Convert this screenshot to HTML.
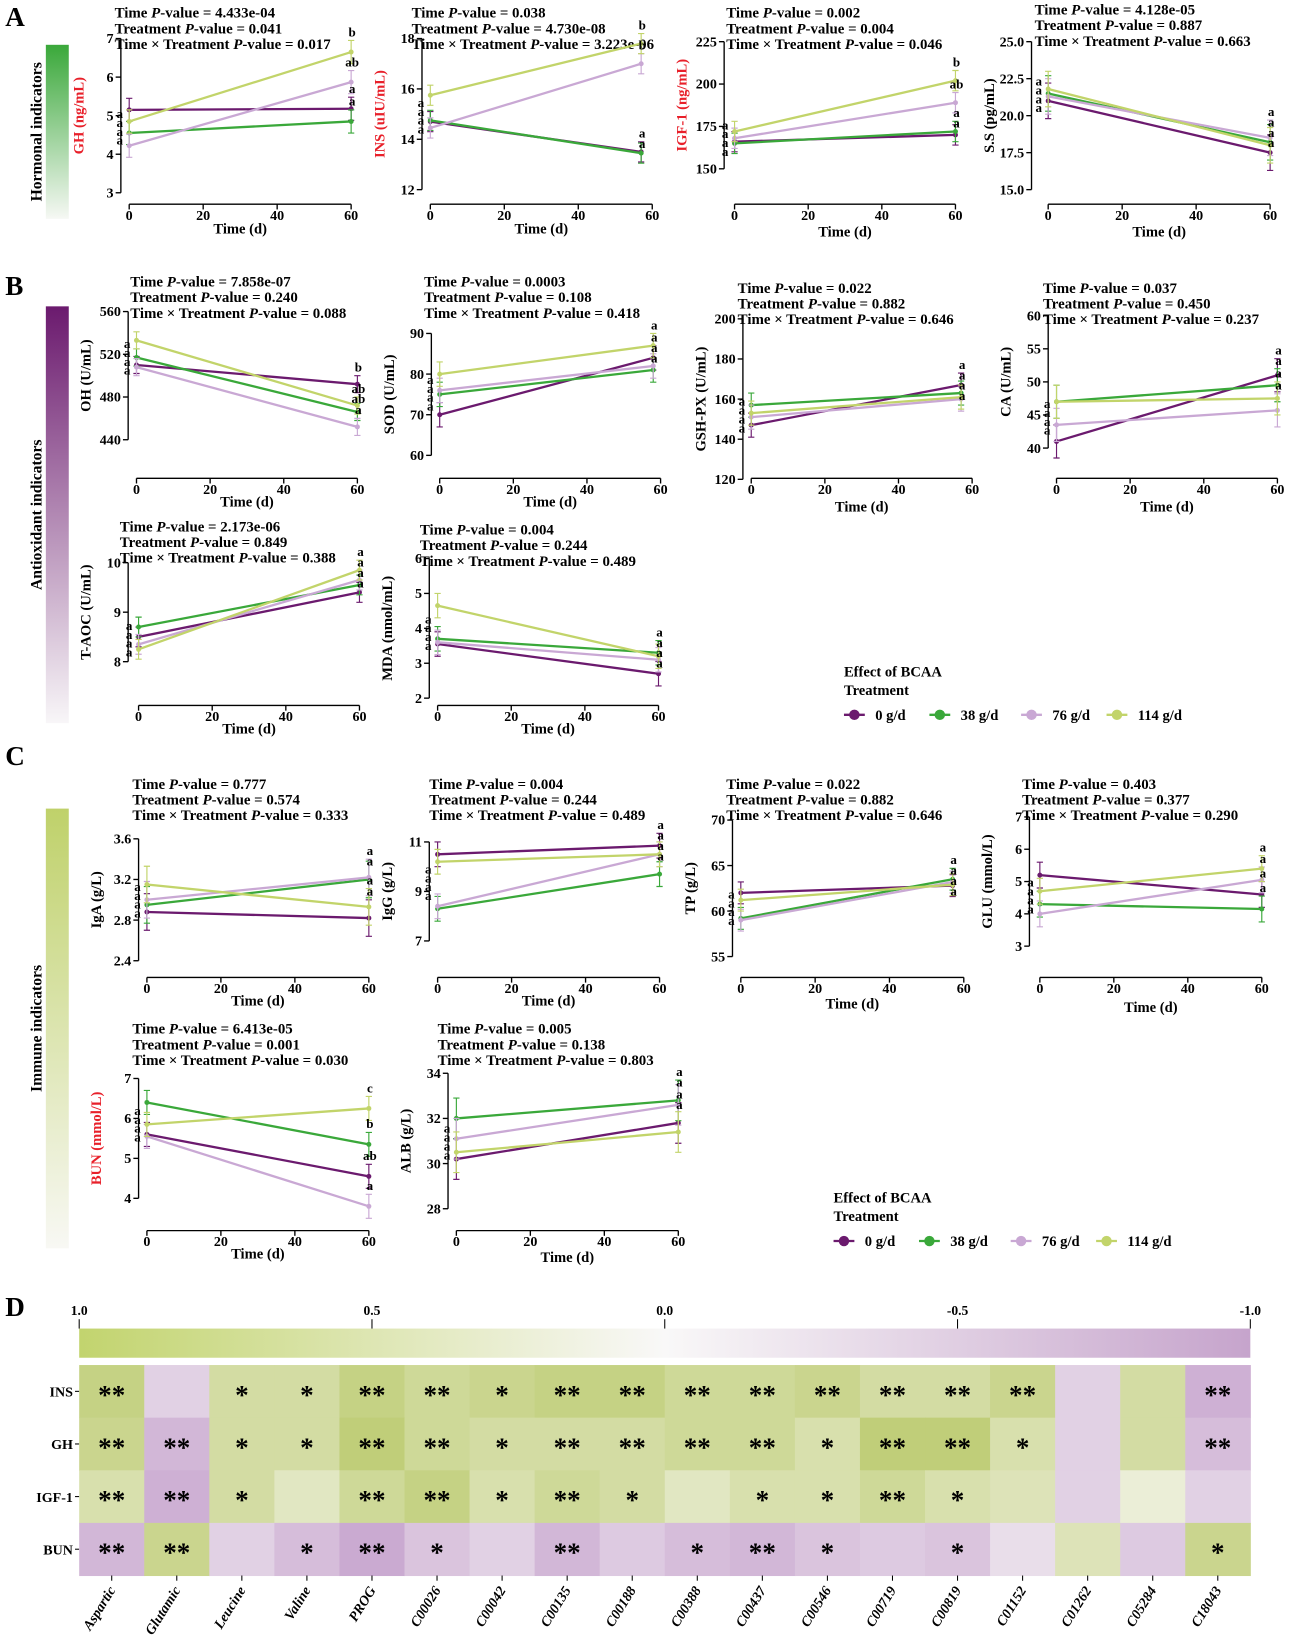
<!DOCTYPE html>
<html><head><meta charset="utf-8">
<style>
html,body{margin:0;padding:0;background:#fff;}
svg{display:block;font-family:"Liberation Serif",serif;font-weight:bold;}
</style></head>
<body>
<svg id="fig" width="1292" height="1637" viewBox="0 0 1240 1571" preserveAspectRatio="none" xmlns="http://www.w3.org/2000/svg">
<defs>
<linearGradient id="gA" x1="0" y1="0" x2="0" y2="1"><stop offset="0" stop-color="#3aa83a"/><stop offset="1" stop-color="#f6f8f4"/></linearGradient>
<linearGradient id="gB" x1="0" y1="0" x2="0" y2="1"><stop offset="0" stop-color="#6b1a6e"/><stop offset="1" stop-color="#f8f6f8"/></linearGradient>
<linearGradient id="gC" x1="0" y1="0" x2="0" y2="1"><stop offset="0" stop-color="#bfd16a"/><stop offset="1" stop-color="#f8f8f4"/></linearGradient>
<linearGradient id="gD" x1="0" y1="0" x2="1" y2="0"><stop offset="0" stop-color="#c2d46e"/><stop offset="0.5" stop-color="#f9f8f8"/><stop offset="1" stop-color="#c6a4cc"/></linearGradient>
</defs>
</svg>
<script>
// ---------- data ----------
const groups = ['0 g/d','38 g/d','76 g/d','114 g/d'];
const groupColors = ['#6b1a6e','#3aa83a','#c9a8d4','#c2d46a'];
const xTicks = [0,20,40,60];

const ghDay0 = [5.15,4.55,4.22,4.85];
const ghDay60 = [5.18,4.85,5.87,6.65];
const ghLetters = ['a','a','ab','b'];
const ghP = ['4.433e-04','0.041','0.017'];
const ghTicks = [3,4,5,6,7];

const insDay0 = [14.7,14.75,14.45,15.75];
const insDay60 = [13.5,13.45,17.0,17.8];
const insLetters = ['a','a','b','b'];
const insP = ['0.038','4.730e-08','3.223e-06'];
const insTicks = [12,14,16,18];

const igfDay0 = [166,165,168,172];
const igfDay60 = [170,172,189,202];
const igfLetters = ['a','a','ab','b'];
const igfP = ['0.002','0.004','0.046'];
const igfTicks = [150,175,200,225];

const ssDay0 = [21.0,21.5,21.3,21.8];
const ssDay60 = [17.5,18.2,18.5,18.0];
const ssLetters = ['a','a','a','a'];
const ssP = ['4.128e-05','0.887','0.663'];
const ssTicks = [15,17.5,20,22.5,25];

const ohDay0 = [510,517,508,533];
const ohDay60 = [492,466,452,472];
const ohLetters = ['b','ab','a','ab'];
const ohP = ['7.858e-07','0.240','0.088'];
const ohTicks = [440,480,520,560];

const sodDay0 = [70,75,76,80];
const sodDay60 = [84,81,82,87];
const sodLetters = ['a','a','a','a'];
const sodP = ['0.0003','0.108','0.418'];
const sodTicks = [60,70,80,90];

const gshDay0 = [147,157,151,153];
const gshDay60 = [167,163,160,161];
const gshLetters = ['a','a','a','a'];
const gshP = ['0.022','0.882','0.646'];
const gshTicks = [120,140,160,180,200];

const caDay0 = [41,47,43.5,47];
const caDay60 = [51,49.5,45.7,47.5];
const caLetters = ['a','a','a','a'];
const caP = ['0.037','0.450','0.237'];
const caTicks = [40,45,50,55,60];

const taocDay0 = [8.5,8.7,8.35,8.25];
const taocDay60 = [9.4,9.55,9.65,9.85];
const taocLetters = ['a','a','a','a'];
const taocP = ['2.173e-06','0.849','0.388'];
const taocTicks = [8,9,10];

const mdaDay0 = [3.55,3.7,3.6,4.65];
const mdaDay60 = [2.7,3.3,3.1,3.2];
const mdaLetters = ['a','a','a','a'];
const mdaP = ['0.004','0.244','0.489'];
const mdaTicks = [2,3,4,5,6];

const igaDay0 = [2.88,2.95,3.0,3.15];
const igaDay60 = [2.82,3.2,3.22,2.93];
const igaLetters = ['a','a','a','a'];
const igaP = ['0.777','0.574','0.333'];
const igaTicks = [2.4,2.8,3.2,3.6];

const iggDay0 = [10.5,8.3,8.4,10.2];
const iggDay60 = [10.85,9.7,10.5,10.5];
const iggLetters = ['a','a','a','a'];
const iggP = ['0.004','0.244','0.489'];
const iggTicks = [7,9,11];

const tpDay0 = [62,59.2,59,61.2];
const tpDay60 = [62.8,63.5,63.2,62.9];
const tpLetters = ['a','a','a','a'];
const tpP = ['0.022','0.882','0.646'];
const tpTicks = [55,60,65,70];

const gluDay0 = [5.2,4.3,4.0,4.7];
const gluDay60 = [4.6,4.15,5.05,5.4];
const gluLetters = ['a','a','a','a'];
const gluP = ['0.403','0.377','0.290'];
const gluTicks = [3,4,5,6,7];

const bunDay0 = [5.6,6.4,5.55,5.85];
const bunDay60 = [4.55,5.35,3.8,6.25];
const bunLetters = ['ab','b','a','c'];
const bunP = ['6.413e-05','0.001','0.030'];
const bunTicks = [4,5,6,7];

const albDay0 = [30.2,32,31.1,30.5];
const albDay60 = [31.8,32.8,32.6,31.4];
const albLetters = ['a','a','a','a'];
const albP = ['0.005','0.138','0.803'];
const albTicks = [28,30,32,34];

// heatmap data
const hmCols = ['Aspartic','Glutamic','Leucine','Valine','PROG','C00026','C00042','C00135','C00188','C00388','C00437','C00546','C00719','C00819','C01152','C01262','C05284','C18043'];
const hmRows = ['INS','GH','IGF-1','BUN'];
const corrINS = [0.55,-0.3,0.4,0.4,0.55,0.45,0.5,0.55,0.55,0.45,0.45,0.5,0.4,0.4,0.5,-0.3,0.4,-0.55];
const corrGH  = [0.5,-0.5,0.4,0.4,0.6,0.45,0.4,0.4,0.4,0.45,0.45,0.35,0.6,0.6,0.35,-0.3,0.4,-0.45];
const corrIGF = [0.35,-0.55,0.4,0.25,0.45,0.55,0.35,0.45,0.4,0.25,0.35,0.35,0.45,0.35,0.3,-0.3,0.15,-0.3];
const corrBUN = [-0.5,0.5,-0.3,-0.45,-0.6,-0.4,-0.3,-0.5,-0.35,-0.45,-0.5,-0.4,-0.35,-0.4,-0.2,0.3,-0.35,0.5];
const starINS = ['**','','*','*','**','**','*','**','**','**','**','**','**','**','**','','','**'];
const starGH  = ['**','**','*','*','**','**','*','**','**','**','**','*','**','**','*','','','**'];
const starIGF = ['**','**','*','','**','**','*','**','*','','*','*','**','*','','','',''];
const starBUN = ['**','**','','*','**','*','','**','','*','**','*','','*','','','','*'];
const cbTicks = [1.0,0.5,0.0,-0.5,-1.0];

// ---------- drawing ----------
const NS='http://www.w3.org/2000/svg';
const svg=document.getElementById('fig');
function el(tag,attrs,parent){const e=document.createElementNS(NS,tag);for(const k in attrs)e.setAttribute(k,attrs[k]);(parent||svg).appendChild(e);return e;}

const panels = [
 {key:'gh',label:'GH (ng/mL)',red:true,d0:ghDay0,d60:ghDay60,let:ghLetters,p:ghP,ticks:ghTicks,ax:116,x0:124,x60:337,yT:37,yB:185,end:60,err:0.3,px:110,py:17,labY:207,titleY:224,fmt:0},
 {key:'ins',label:'INS (uIU/mL)',red:true,d0:insDay0,d60:insDay60,let:insLetters,p:insP,ticks:insTicks,ax:405,x0:413,x60:626,yT:37,yB:182,end:57,err:0.4,px:395,py:17,labY:207,titleY:224,fmt:0},
 {key:'igf',label:'IGF-1 (ng/mL)',red:true,d0:igfDay0,d60:igfDay60,let:igfLetters,p:igfP,ticks:igfTicks,ax:695,x0:705,x60:917,yT:40,yB:162,end:60,err:6,px:697,py:17,labY:207,titleY:227,fmt:0},
 {key:'ss',label:'S.S (pg/mL)',red:false,d0:ssDay0,d60:ssDay60,let:ssLetters,p:ssP,ticks:ssTicks,ax:990,x0:1006,x60:1219,yT:40,yB:182,end:60,err:1.2,px:993,py:14,labY:207,titleY:227,fmt:1},
 {key:'oh',label:'OH (U/mL)',red:false,d0:ohDay0,d60:ohDay60,let:ohLetters,p:ohP,ticks:ohTicks,ax:123,x0:131,x60:343,yT:299,yB:422,end:60,err:8,px:125,py:275,labY:470,titleY:486,fmt:0},
 {key:'sod',label:'SOD (U/mL)',red:false,d0:sodDay0,d60:sodDay60,let:sodLetters,p:sodP,ticks:sodTicks,ax:414,x0:422,x60:634,yT:320,yB:437,end:58,err:3,px:407,py:275,labY:470,titleY:486,fmt:0},
 {key:'gsh',label:'GSH-PX (U/mL)',red:false,d0:gshDay0,d60:gshDay60,let:gshLetters,p:gshP,ticks:gshTicks,ax:713,x0:721,x60:933,yT:306,yB:460,end:57,err:6,px:708,py:281,labY:470,titleY:491,fmt:0},
 {key:'ca',label:'CA (U/mL)',red:false,d0:caDay0,d60:caDay60,let:caLetters,p:caP,ticks:caTicks,ax:1006,x0:1014,x60:1226,yT:303,yB:430,end:60,err:2.5,px:1001,py:281,labY:470,titleY:491,fmt:0},
 {key:'taoc',label:'T-AOC (U/mL)',red:false,d0:taocDay0,d60:taocDay60,let:taocLetters,p:taocP,ticks:taocTicks,ax:123,x0:133,x60:345,yT:540,yB:635,end:60,err:0.2,px:115,py:510,labY:688,titleY:704,fmt:0},
 {key:'mda',label:'MDA (nmol/mL)',red:false,d0:mdaDay0,d60:mdaDay60,let:mdaLetters,p:mdaP,ticks:mdaTicks,ax:412,x0:420,x60:632,yT:536,yB:670,end:60,err:0.35,px:403,py:513,labY:688,titleY:704,fmt:0},
 {key:'iga',label:'IgA (g/L)',red:false,d0:igaDay0,d60:igaDay60,let:igaLetters,p:igaP,ticks:igaTicks,ax:133,x0:141,x60:354,yT:805,yB:922,end:60,err:0.18,px:127,py:757,labY:949,titleY:965,fmt:1},
 {key:'igg',label:'IgG (g/L)',red:false,d0:iggDay0,d60:iggDay60,let:iggLetters,p:iggP,ticks:iggTicks,ax:412,x0:420,x60:633,yT:808,yB:903,end:60,err:0.5,px:412,py:757,labY:949,titleY:965,fmt:0},
 {key:'tp',label:'TP (g/L)',red:false,d0:tpDay0,d60:tpDay60,let:tpLetters,p:tpP,ticks:tpTicks,ax:703,x0:711,x60:925,yT:787,yB:918,end:57,err:1.2,px:697,py:757,labY:949,titleY:968,fmt:0},
 {key:'glu',label:'GLU (mmol/L)',red:false,d0:gluDay0,d60:gluDay60,let:gluLetters,p:gluP,ticks:gluTicks,ax:988,x0:998,x60:1211,yT:784,yB:908,end:60,err:0.4,px:981,py:757,labY:949,titleY:971,fmt:0},
 {key:'bun',label:'BUN (mmol/L)',red:true,d0:bunDay0,d60:bunDay60,let:bunLetters,p:bunP,ticks:bunTicks,ax:133,x0:141,x60:354,yT:1035,yB:1150,end:60,err:0.3,px:127,py:992,labY:1192,titleY:1208,fmt:0},
 {key:'alb',label:'ALB (g/L)',red:false,d0:albDay0,d60:albDay60,let:albLetters,p:albP,ticks:albTicks,ax:430,x0:438,x60:651,yT:1030,yB:1160,end:60,err:0.9,px:420,py:992,labY:1192,titleY:1211,fmt:0},
];

panels.forEach(P=>{
  const g=el('g',{});
  
  
  const tmin=P.ticks[0], tmax=P.ticks[P.ticks.length-1];
  const ys=v=>P.yB-(v-tmin)/(tmax-tmin)*(P.yB-P.yT);
  const xs=d=>P.x0+d/60*(P.x60-P.x0);
  const names=['Time ','Treatment ','Time × Treatment '];
  P.p.forEach((pv,i)=>{
    const t=el('text',{x:P.px,y:P.py+i*15,'font-size':14.3},g);
    
    
    t.appendChild(document.createTextNode(names[i]));
    const it=el('tspan',{'font-style':'italic'},t);it.textContent='P';
    t.appendChild(document.createTextNode('-value = '+pv));
  });
  const ya=el('line',{x1:P.ax,x2:P.ax,y1:P.yT,y2:P.yB,stroke:'#000','stroke-width':1.3},g);
  
  
  P.ticks.forEach(v=>{
    el('line',{x1:P.ax-5,x2:P.ax,y1:ys(v),y2:ys(v),stroke:'#000','stroke-width':1.3},g);
    const t=el('text',{x:P.ax-7,y:ys(v)+4.5,'font-size':13.5,'text-anchor':'end'},g);
    
    
    t.textContent=P.fmt?v.toFixed(1):String(v);
  });
  const yl=el('text',{x:0,y:0,'font-size':14,'text-anchor':'middle',fill:P.red?'#e8202a':'#000',transform:`translate(${P.ax-36},${(P.yT+P.yB)/2}) rotate(-90)`},g);
  
  
  yl.textContent=P.label;
  const axY=P.labY-11;
  const xa=el('line',{x1:P.x0,x2:P.x60,y1:axY,y2:axY,stroke:'#000','stroke-width':1.3},g);
  
  
  xTicks.forEach(d=>{
    el('line',{x1:xs(d),x2:xs(d),y1:axY,y2:axY+5,stroke:'#000','stroke-width':1.3},g);
    const t=el('text',{x:xs(d),y:P.labY+4,'font-size':13.5,'text-anchor':'middle'},g);
    
    
    t.textContent=d;
  });
  const xt=el('text',{x:(P.x0+P.x60)/2,y:P.titleY,'font-size':14,'text-anchor':'middle'},g);
  
  
  xt.textContent='Time (d)';
  groups.forEach((gn,i)=>{
    const c=groupColors[i];
    const xa0=xs(0), xe=xs(P.end), y0=ys(P.d0[i]), y1=ys(P.d60[i]);
    const ln=el('line',{x1:xa0,y1:y0,x2:xe,y2:y1,stroke:c,'stroke-width':2.2},g);
    
    
    [[xa0,P.d0[i]],[xe,P.d60[i]]].forEach(([x,v])=>{
      const a=ys(v+P.err), b=ys(v-P.err);
      el('path',{d:`M${x},${a}V${b}M${x-3},${a}H${x+3}M${x-3},${b}H${x+3}`,stroke:c,'stroke-width':1.1,fill:'none'},g);
      const pt=el('circle',{cx:x,cy:ys(v),r:2.4,fill:c},g);
      
      
    });
  });
  const m0=P.d0.reduce((a,b)=>a+b,0)/4;
  for(let i=0;i<4;i++){
    const t=el('text',{x:xs(0)-9,y:ys(m0)-13+i*8.5+4,'font-size':12.5,'text-anchor':'middle'},g);
    
    
    t.textContent='a';
  }
  const order=[0,1,2,3].sort((a,b)=>P.d60[b]-P.d60[a]);
  let last=-1e9;
  order.forEach(i=>{
    let y=ys(P.d60[i]+P.err)-4;
    if(y<last+10) y=last+10;
    last=y;
    const t=el('text',{x:xs(P.end)+1,y:y,'font-size':12.5,'text-anchor':'middle'},g);
    
    
    t.textContent=P.let[i];
  });
});

[['A',15,25],['B',15,283],['C',15,734],['D',15,1263]].forEach(([s,x,y])=>{
  const t=el('text',{x:x-10,y:y,'font-size':26});
  
  
  t.textContent=s;
});
[['gA',43,210,'Hormonal indicators'],['gB',294,694,'Antioxidant indicators'],['gC',776,1198,'Immune indicators']].forEach(([g,y0,y1,lbl])=>{
  const r=el('rect',{x:44,y:y0,width:22,height:y1-y0,fill:`url(#${g})`});
  
  
  const t=el('text',{x:0,y:0,'font-size':15,'text-anchor':'middle',transform:`translate(40,${(y0+y1)/2}) rotate(-90)`});
  
  
  t.textContent=lbl;
});

[[810,645,686],[800,1150,1191]].forEach(([lx,ly,ey],k)=>{
  const t1=el('text',{x:lx,y:ly+4,'font-size':14});
  
  
  t1.textContent='Effect of BCAA';
  const t2=el('text',{x:lx,y:ly+22,'font-size':14});
  
  
  t2.textContent='Treatment';
  const offs=[0,82,170,252];
  groups.forEach((gn,i)=>{
    const cx=lx+10+offs[i];
    el('line',{x1:cx-10,x2:cx+10,y1:ey,y2:ey,stroke:groupColors[i],'stroke-width':2.2});
    const c=el('circle',{cx:cx,cy:ey,r:5,fill:groupColors[i]});
    
    
    const t=el('text',{x:cx+20,y:ey+5,'font-size':14});
    
    
    t.textContent=gn;
  });
});

const hx0=76, hx1=1200, hy0=1310, rowH=50.5;
const cw=(hx1-hx0)/hmCols.length;
const cb=el('rect',{x:hx0,y:1275,width:hx1-hx0,height:28,fill:'url(#gD)'});


const cbx=v=>hx0+(1-v)/2*(hx1-hx0);
cbTicks.forEach(v=>{
  el('line',{x1:cbx(v),x2:cbx(v),y1:1266,y2:1275,stroke:'#000','stroke-width':1});
  const t=el('text',{x:cbx(v),y:1262,'font-size':13,'text-anchor':'middle'});
  
  
  t.textContent=v.toFixed(1);
});
function mix(a,b,t){return a.map((x,i)=>Math.round(x+(b[i]-x)*t));}
function corrColor(v){
  const w=[249,248,246];
  const c=v>=0?mix(w,[178,196,90],Math.min(1,v/0.75)):mix(w,[190,150,200],Math.min(1,-v/0.75));
  return `rgb(${c[0]},${c[1]},${c[2]})`;
}
const rowVals=[corrINS,corrGH,corrIGF,corrBUN];
const rowStars=[starINS,starGH,starIGF,starBUN];
hmRows.forEach((rn,r)=>{
  const y=hy0+r*rowH;
  const t=el('text',{x:hx0-6,y:y+rowH/2+5,'font-size':13.5,'text-anchor':'end'});
  
  
  t.textContent=rn;
  el('line',{x1:hx0-4,x2:hx0,y1:y+rowH/2,y2:y+rowH/2,stroke:'#000'});
  hmCols.forEach((cn,c)=>{
    const x=hx0+c*cw;
    const cell=el('rect',{x:x,y:y,width:cw+0.5,height:rowH+0.5,fill:corrColor(rowVals[r][c])});
    
    
    if(rowStars[r][c]){
      const s=el('text',{x:x+cw/2,y:y+rowH/2+12,'font-size':26,'text-anchor':'middle'});
      
      
      s.textContent=rowStars[r][c];
    }
  });
});
hmCols.forEach((cn,c)=>{
  const x=hx0+c*cw+cw/2;
  const yb=hy0+4*rowH;
  el('line',{x1:x,x2:x,y1:yb,y2:yb+5,stroke:'#000'});
  const t=el('text',{x:0,y:0,'font-size':13.5,'font-style':'italic','text-anchor':'end',transform:`translate(${x+4},${yb+14}) rotate(-58)`});
  
  
  t.textContent=cn;
});
</script>
</body></html>
